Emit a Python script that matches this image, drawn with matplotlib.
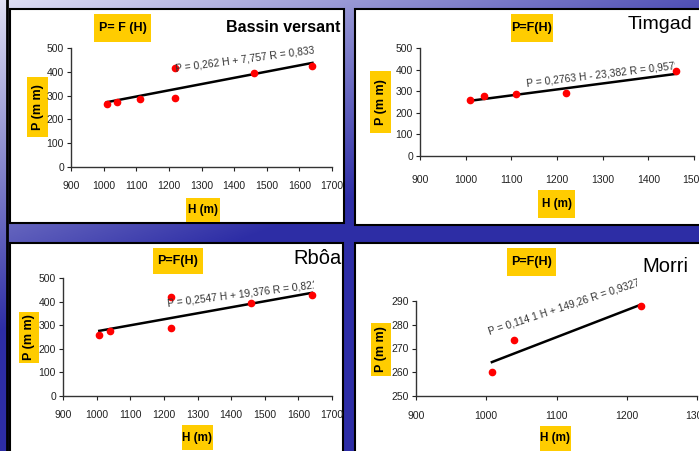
import numpy as np
import matplotlib
matplotlib.use("Agg")
import matplotlib.pyplot as plt
from matplotlib.patches import Rectangle

plt.rcParams['font.family'] = ['Liberation Sans', 'DejaVu Sans']

# data
bv_h = [1010, 1040, 1110, 1220, 1220, 1460, 1640]
bv_p = [265, 272, 287, 288, 416, 393, 426]
tim_h = [1010, 1040, 1110, 1220, 1460]
tim_p = [260, 279, 287, 292, 393]
rb_h = [1008, 1040, 1220, 1220, 1460, 1640]
rb_p = [260, 274, 288, 418, 396, 426]
mo_h = [1008, 1040, 1220]
mo_p = [260, 273.5, 288]

# regression coefficients (slope, intercept) as written on the charts
bv_fit = (0.262, 7.757)
tim_fit = (0.2763, -23.382)
rb_fit = (0.2547, 19.376)
mo_fit = (0.1141, 149.26)

bv_eq = "P = 0,262 H + 7,757 R = 0,8339"
tim_eq = "P = 0,2763 H - 23,382 R = 0,9579"
rb_eq = "P = 0,2547 H + 19,376 R = 0,8215"
mo_eq = "P = 0,114 1 H + 149,26 R = 0,9327"

W, H = 699, 451
fig = plt.figure(figsize=(W / 100, H / 100), dpi=100)


def fx(x):
    return x / W


def fy(y):
    return 1 - y / H


def fbox(x0, y0, x1, y1):
    return [fx(x0), fy(y1), (x1 - x0) / W, (y1 - y0) / H]


# slide background: light lavender top-left to deep blue
bg = fig.add_axes([0, 0, 1, 1])
yy, xx = np.mgrid[0:H, 0:W]
t = np.clip(xx / W * 0.8 + yy / 230 * 0.7, 0, 1)
light = np.array([0.88, 0.88, 0.96])
dark = np.array([0.18, 0.18, 0.65])
img = light[None, None, :] * (1 - t[..., None]) + dark[None, None, :] * t[..., None]
bg.imshow(img, aspect='auto', extent=[0, W, H, 0])
bg.set_xlim(0, W)
bg.set_ylim(H, 0)
bg.axis('off')
bg.plot([7, 7], [0, H], color='black', lw=2)

yellow = '#FFCC00'

panels = [
    dict(box=(10, 9, 344, 223), ax=(71, 48, 332, 167), h=bv_h, p=bv_p, fit=bv_fit,
         xlim=(900, 1700), ylim=(0, 500), xt=range(900, 1701, 100), yt=range(0, 501, 100),
         eq=bv_eq, eqpos=(1222, 400), rot=7.6, clipx=314, xpad=8,
         title="P= F (H)", tbox=(94, 14, 151, 42),
         ylab="P (m m)", ybox=(27, 77, 48, 137), xlab="H (m)", xbox=(186, 198, 220, 222),
         name="Bassin versant", npos=(340, 32), nsize=11.5, nweight='bold', nha='right'),
    dict(box=(355, 9, 710, 225), ax=(420, 48, 694, 156), h=tim_h, p=tim_p, fit=tim_fit,
         xlim=(900, 1500), ylim=(0, 500), xt=range(900, 1501, 100), yt=range(0, 501, 100),
         eq=tim_eq, eqpos=(1134, 324), rot=6.8, clipx=675, xpad=12,
         title="P=F(H)", tbox=(511, 14, 553, 42),
         ylab="P (m m)", ybox=(370, 71, 391, 133), xlab="H (m)", xbox=(538, 190, 575, 218),
         name="Timgad", npos=(692, 29), nsize=14, nweight='normal', nha='right'),
    dict(box=(10, 243, 343, 470), ax=(63, 278, 332, 396), h=rb_h, p=rb_p, fit=rb_fit,
         xlim=(900, 1700), ylim=(0, 500), xt=range(900, 1701, 100), yt=range(0, 501, 100),
         eq=rb_eq, eqpos=(1212, 381), rot=7.2, clipx=314, xpad=8,
         title="P=F(H)", tbox=(153, 248, 203, 274),
         ylab="P (m m)", ybox=(19, 312, 39, 363), xlab="H (m)", xbox=(182, 425, 213, 450),
         name="Rbôa", npos=(342, 264), nsize=14.5, nweight='normal', nha='right'),
    dict(box=(355, 243, 710, 470), ax=(416, 301, 697, 396), h=mo_h, p=mo_p, fit=mo_fit,
         xlim=(900, 1300), ylim=(250, 290), xt=range(900, 1301, 100), yt=range(250, 291, 10),
         eq=mo_eq, eqpos=(1005, 276), rot=18.2, clipx=637, xpad=9,
         title="P=F(H)", tbox=(507, 248, 556, 276),
         ylab="P (m m)", ybox=(371, 323, 391, 376), xlab="H (m)", xbox=(540, 426, 571, 451),
         name="Morri", npos=(642, 272), nsize=14.5, nweight='normal', nha='left'),
]

for pn in panels:
    x0, y0, x1, y1 = pn['box']
    fig.patches.append(Rectangle((fx(x0), fy(y1)), (x1 - x0) / W, (y1 - y0) / H,
                                 transform=fig.transFigure, facecolor='white',
                                 edgecolor='black', lw=1.5, zorder=1))

    ax = fig.add_axes(fbox(*pn['ax']))
    ax.set_facecolor('none')
    ax.set_zorder(3)
    ax.set_xlim(*pn['xlim'])
    ax.set_ylim(*pn['ylim'])
    ax.set_xticks(list(pn['xt']))
    ax.set_yticks(list(pn['yt']))
    for s in ['top', 'right']:
        ax.spines[s].set_visible(False)
    for s in ['left', 'bottom']:
        ax.spines[s].set_color('#333333')
        ax.spines[s].set_linewidth(1)
    ax.tick_params(axis='both', labelsize=7.5, colors='#222222', length=3, width=0.8)
    ax.tick_params(axis='x', pad=pn['xpad'] - 1)
    ax.tick_params(axis='y', pad=2)

    h = np.array(pn['h'])
    a, b = pn['fit']
    hx = np.array([h.min(), h.max()])
    ax.plot(hx, a * hx + b, color='black', lw=1.8, zorder=3)
    ax.plot(h, pn['p'], 'o', color='#FF0000', ms=4.5, mec='#FF0000', zorder=4, clip_on=False)

    txt = ax.text(pn['eqpos'][0], pn['eqpos'][1], pn['eq'], fontsize=7.4, color='#333333',
                  rotation=pn['rot'], rotation_mode='anchor', ha='left', va='baseline',
                  zorder=5)
    clip = Rectangle((fx(x0), fy(y1)), (pn['clipx'] - x0) / W, (y1 - y0) / H,
                     transform=fig.transFigure, facecolor='none', edgecolor='none')
    txt.set_clip_on(True)
    txt.set_clip_box(None)
    txt.set_clip_path(clip)

    # yellow label boxes
    for key, bkey, rot, fs in [('title', 'tbox', 0, 9), ('ylab', 'ybox', 90, 9),
                               ('xlab', 'xbox', 0, 8.5)]:
        bx0, by0, bx1, by1 = pn[bkey]
        fig.patches.append(Rectangle((fx(bx0), fy(by1)), (bx1 - bx0) / W, (by1 - by0) / H,
                                     transform=fig.transFigure, facecolor=yellow,
                                     edgecolor='none', zorder=2))
        fig.text(fx((bx0 + bx1) / 2), fy((by0 + by1) / 2), pn[key], fontsize=fs,
                 fontweight='bold', rotation=rot, ha='center', va='center',
                 color='black', zorder=6)

    fig.text(fx(pn['npos'][0]), fy(pn['npos'][1]), pn['name'], fontsize=pn['nsize'],
             fontweight=pn['nweight'], ha=pn['nha'], va='baseline', color='black', zorder=6)

fig.savefig("out.png", dpi=100)
